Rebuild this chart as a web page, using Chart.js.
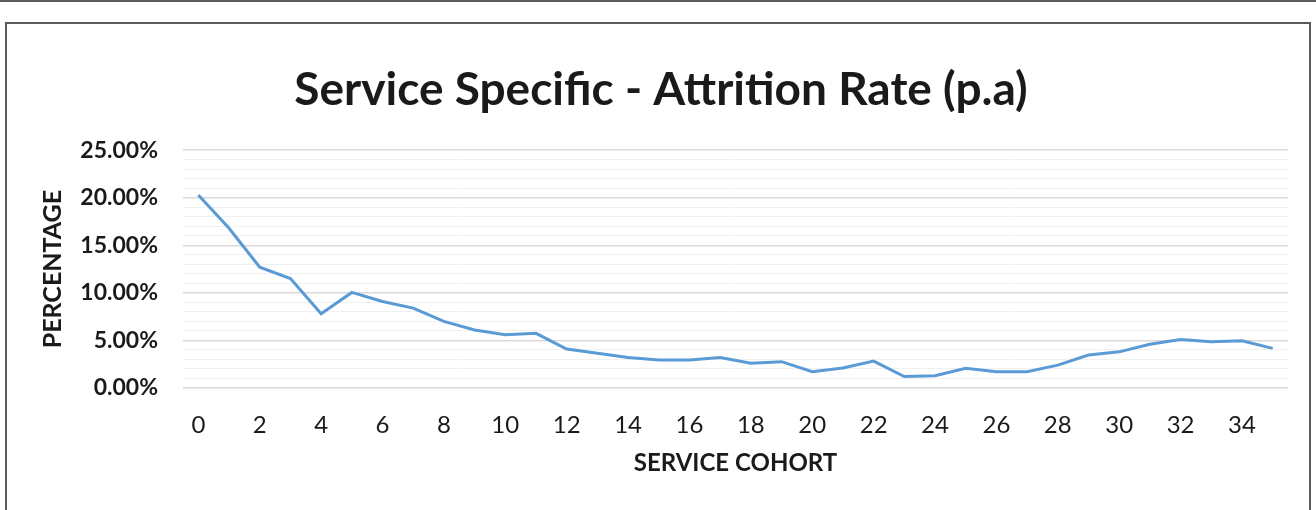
<!DOCTYPE html>
<html>
<head>
<meta charset="utf-8">
<script src="https://cdn.jsdelivr.net/npm/chart.js@4.4.1/dist/chart.umd.min.js"></script>
<style>
  body { margin: 0; background: #fff; width: 1316px; height: 510px; overflow: hidden; position: relative; }
  #topline { position: absolute; left: 0; top: 0; width: 1316px; height: 2px; background: #5a5a5a; }
  #frame { position: absolute; left: 5px; top: 22px; width: 1302px; height: 500px; border: 2px solid #5a5a5a; border-bottom: none; }
  #wrap { position: absolute; left: 8px; top: 24px; width: 1299px; height: 486px; }
</style>
</head>
<body>
<div id="topline"></div>
<div id="frame"></div>
<div id="wrap"><canvas id="chart"></canvas></div>
<script>
// service cohort 0..35
const cohorts = [];
for (let i = 0; i <= 35; i++) cohorts.push(String(i));

// attrition rate in percent
const attrition = [
    20.3, 16.8, 12.7, 11.5, 7.8, 10.05, 9.1, 8.4, 7.0, 6.1,
    5.6, 5.75, 4.1, 3.65, 3.2, 2.95, 2.95, 3.2, 2.6, 2.77,
    1.72, 2.1, 2.83, 1.2, 1.3, 2.07, 1.72, 1.72, 2.4, 3.47,
    3.8, 4.6, 5.1, 4.87, 4.97, 4.17
];

const yTicks = [0, 5, 10, 15, 20, 25];

const ctx = document.getElementById('chart').getContext('2d');
new Chart(ctx, {
    type: 'line',
    data: {
        labels: cohorts,
        datasets: [{
            label: 'Attrition Rate',
            data: attrition,
            borderColor: '#5B9BD5',
            backgroundColor: '#5B9BD5',
            borderWidth: 3,
            pointRadius: 0,
            tension: 0
        }]
    },
    options: {
        responsive: true,
        maintainAspectRatio: false,
        animation: false,
        layout: { padding: { left: 26, right: 19, top: 0, bottom: 28 } },
        plugins: {
            legend: { display: false },
            tooltip: { enabled: false },
            title: {
                display: true,
                text: 'Service Specific - Attrition Rate (p.a)',
                color: '#1a1a1a',
                font: { family: 'Lato', size: 46, weight: 'bold' },
                padding: { top: 39, bottom: 32 }
            }
        },
        scales: {
            x: {
                offset: true,
                grid: { display: false, drawTicks: false },
                border: { display: false },
                ticks: {
                    autoSkip: false,
                    maxRotation: 0,
                    padding: 23,
                    color: '#1a1a1a',
                    font: { family: 'Lato', size: 24 },
                    callback: function (value, index) {
                        return index % 2 === 0 ? cohorts[index] : '';
                    }
                },
                title: {
                    display: true,
                    text: 'SERVICE COHORT',
                    color: '#1a1a1a',
                    font: { family: 'Lato', size: 24, weight: 'bold' }
                },
                afterFit: function (scale) { scale.height = 94; }
            },
            y: {
                min: 0,
                max: 25,
                grid: {
                    drawTicks: false,
                    color: ctx => (ctx.tick && yTicks.includes(ctx.tick.value)) ? '#d9d9d9' : '#f0f0f0',
                    lineWidth: ctx => (ctx.tick && yTicks.includes(ctx.tick.value)) ? 1.5 : 1
                },
                border: { display: false },
                ticks: {
                    stepSize: 1,
                    autoSkip: false,
                    padding: 25,
                    color: '#1a1a1a',
                    font: { family: 'Lato', size: 23, weight: 'bold' },
                    callback: function (value) {
                        return yTicks.includes(value) ? value.toFixed(2) + '%' : '';
                    }
                },
                title: {
                    display: true,
                    text: 'PERCENTAGE',
                    color: '#1a1a1a',
                    font: { family: 'Lato', size: 25, weight: 'bold' }
                },
                afterFit: function (scale) { scale.width = 149; }
            }
        }
    }
});
</script>
</body>
</html>
